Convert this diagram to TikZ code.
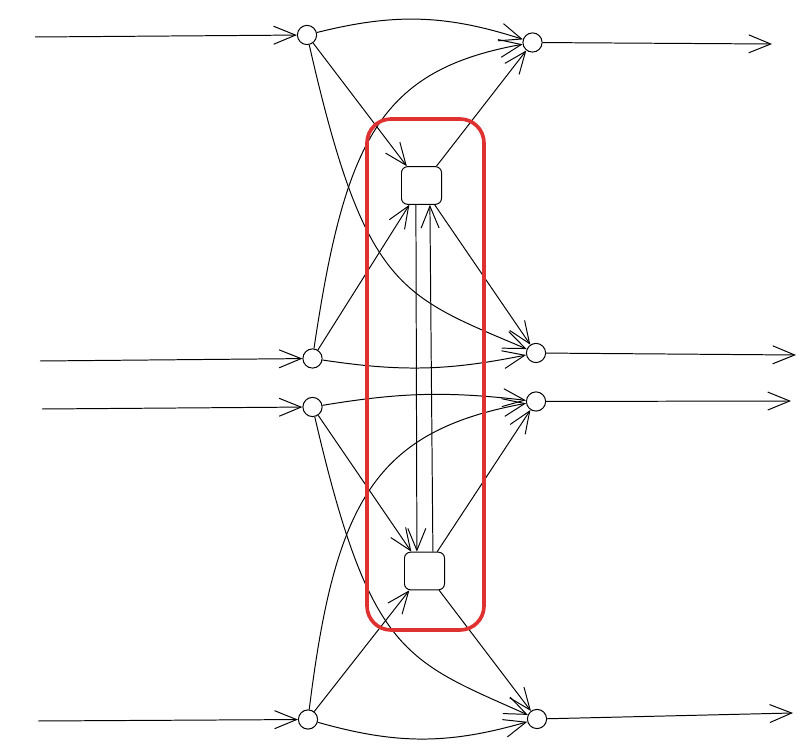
\documentclass[tikz,border=0pt]{standalone}
\usetikzlibrary{arrows.meta, positioning}
\definecolor{framered}{HTML}{E03131}
\tikzset{
  dot/.style={circle,draw,minimum size=0.48cm,inner sep=0pt},
  cell/.style={rectangle,draw,rounded corners=0.15cm,minimum width=1cm,minimum height=0.94cm},
  frame/.style={draw=framered,line width=2.6pt,rounded corners=0.6cm}
}
\begin{document}
\begin{tikzpicture}[x=0.025cm,y=-0.025cm,line width=0.7pt,>={Straight Barb[length=5.5mm,width=4.5mm]}]
\useasboundingbox (0,0) rectangle (811,747);
%left and right nodes
\node[dot] (l1) at (307,35) {};
\node[dot] (l2) at (312.5,358.5) {};
\node[dot] (l3) at (312.5,407) {};
\node[dot] (l4) at (308,719.5) {};
\node[dot] (r1) at (532.5,42.5) {};
\node[dot] (r2) at (536,353) {};
\node[dot] (r3) at (536,401.5) {};
\node[dot] (r4) at (537,719) {};
%middle boxes
\node[cell] (c1) at (421.5,185.5) {};
\node[cell] (c2) at (424.5,571) {};
%inputs and outputs
\coordinate (in1) at (35,37);
\coordinate (in2) at (40,361);
\coordinate (in3) at (42,409);
\coordinate (in4) at (38,721);
\coordinate (out1) at (772,44);
\coordinate (out2) at (796,355);
\coordinate (out3) at (791,401);
\coordinate (out4) at (793,713);
\draw[->] (in1) -- (l1);
\draw[->] (in2) -- (l2);
\draw[->] (in3) -- (l3);
\draw[->] (in4) -- (l4);
\draw[->] (r1) -- (out1);
\draw[->] (r2) -- (out2);
\draw[->] (r3) -- (out3);
\draw[->] (r4) -- (out4);
%upper group
\draw[->] (l1) to[bend left=16] (r1);
\draw[->] (l1) -- (c1);
\draw[->] (l1) .. controls (365,290) and (400,295) .. (r2);
\draw[->] (l2) .. controls (345,140) and (380,70) .. (r1);
\draw[->] (l2) -- (c1);
\draw[->] (l2) to[bend right=10] (r2);
\draw[->] (c1) -- (r1);
\draw[->] (c1) -- (r2);
%between the boxes
\draw[->] ([xshift=-0.14cm]c1.south) -- ([xshift=-0.19cm]c2.north);
\draw[->] ([xshift=0.21cm]c2.north) -- ([xshift=0.21cm]c1.south);
%lower group
\draw[->] (l3) to[bend left=8] (r3);
\draw[->] (l3) -- (c2);
\draw[->] (l3) .. controls (370,655) and (405,660) .. (r4);
\draw[->] (l4) .. controls (335,501) and (375,431) .. (r3);
\draw[->] (l4) -- (c2);
\draw[->] (l4) to[bend right=16] (r4);
\draw[->] (c2) -- (r3);
\draw[->] (c2) -- (r4);
%red frame round the boxes
\draw[frame] (367,119) rectangle (484,630);
\end{tikzpicture}
\end{document}
